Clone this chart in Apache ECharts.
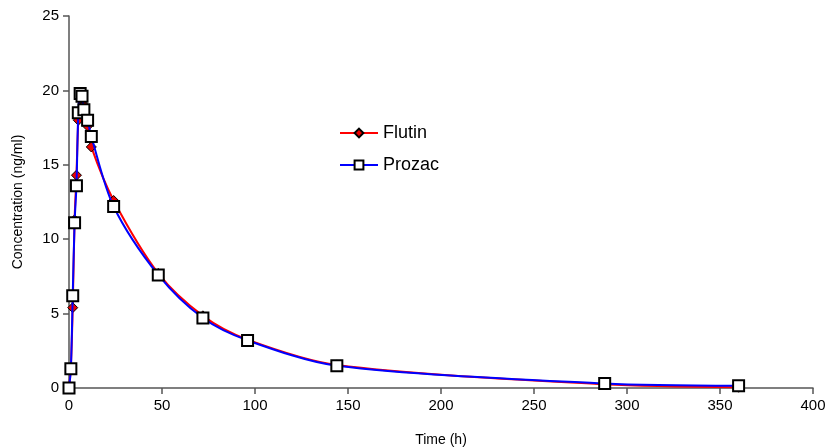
<!DOCTYPE html>
<html>
<head>
<meta charset="utf-8">
<script src="https://cdn.jsdelivr.net/npm/echarts@6/dist/echarts.min.js"></script>
<style>
  html, body { margin: 0; padding: 0; background: #fff; }
  #chart { width: 828px; height: 448px; }
</style>
</head>
<body>
<div id="chart"></div>
<script>
// sampling times (h)
var times = [0, 1, 2, 3, 4, 5, 6, 7, 8, 10, 12, 24, 48, 72, 96, 144, 288, 360];
// mean concentrations (ng/ml)
var flutin = [0, 1.4, 5.4, 11.3, 14.3, 18.0, 19.6, 19.4, 19.0, 17.6, 16.2, 12.6, 7.7, 4.85, 3.25, 1.55, 0.25, 0.05];
var prozac = [0, 1.3, 6.2, 11.1, 13.6, 18.5, 19.8, 19.6, 18.7, 18.0, 16.9, 12.2, 7.6, 4.7, 3.2, 1.5, 0.3, 0.15];

function pairs(ys) {
  return times.map(function (t, i) { return [t, ys[i]]; });
}

var font = 'Liberation Sans, Arial, sans-serif';
var chart = echarts.init(document.getElementById('chart'), null, { renderer: 'canvas' });

chart.setOption({
  animation: false,
  backgroundColor: '#fff',
  grid: { left: 69, right: 15, top: 16, bottom: 60, outerBoundsMode: 'none' },
  legend: {
    orient: 'vertical',
    left: 334,
    top: 119,
    itemWidth: 38,
    itemHeight: 11,
    itemGap: 14,
    textStyle: { fontFamily: font, fontSize: 18, color: '#000' },
    data: ['Flutin', 'Prozac']
  },
  xAxis: {
    type: 'value',
    min: 0, max: 400, interval: 50,
    name: 'Time (h)',
    nameLocation: 'middle',
    nameGap: 45,
    nameTextStyle: { fontFamily: font, fontSize: 14, color: '#000' },
    axisLine: { lineStyle: { color: '#555', width: 1.5 } },
    axisTick: { inside: false, length: 6, lineStyle: { color: '#555', width: 1.5 } },
    axisLabel: { fontFamily: font, fontSize: 15, color: '#000', margin: 10 },
    splitLine: { show: false }
  },
  yAxis: {
    type: 'value',
    min: 0, max: 25, interval: 5,
    name: 'Concentration (ng/ml)',
    nameLocation: 'middle',
    nameGap: 44,
    nameTextStyle: { fontFamily: font, fontSize: 14, color: '#000' },
    axisLine: { show: true, lineStyle: { color: '#555', width: 1.5 } },
    axisTick: { show: true, inside: false, length: 6, lineStyle: { color: '#555', width: 1.5 } },
    axisLabel: { fontFamily: font, fontSize: 15, color: '#000', margin: 10 },
    splitLine: { show: false }
  },
  series: [
    {
      name: 'Flutin',
      type: 'line',
      data: pairs(flutin),
      smooth: 0.3,
      symbol: 'diamond',
      symbolSize: 10,
      lineStyle: { color: '#ff0000', width: 2 },
      itemStyle: { color: '#ee0000', borderColor: '#000', borderWidth: 1 },
      z: 2
    },
    {
      name: 'Prozac',
      type: 'line',
      data: pairs(prozac),
      smooth: 0.3,
      symbol: 'rect',
      symbolSize: 11,
      lineStyle: { color: '#0000ff', width: 2 },
      itemStyle: { color: '#fff', borderColor: '#000', borderWidth: 2 },
      z: 3
    }
  ]
});
</script>
</body>
</html>
